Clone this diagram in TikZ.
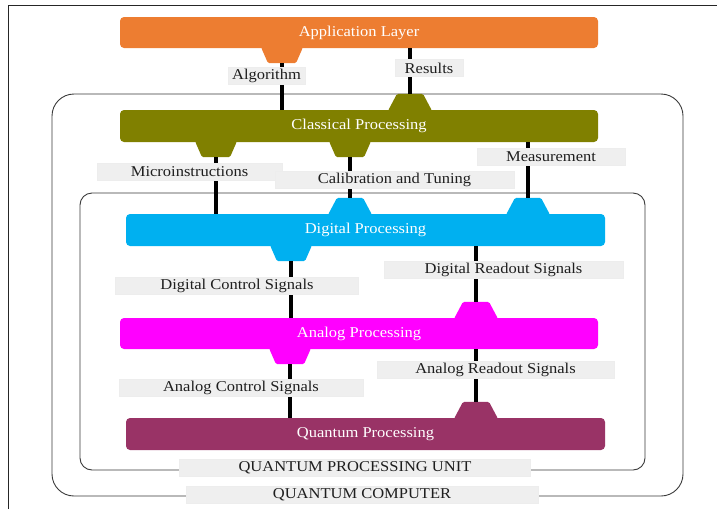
\documentclass[tikz,border=0pt]{standalone}
\usepackage{fontspec}
\setmainfont{Liberation Serif}[FakeStretch=1.1]
\usetikzlibrary{calc}

\definecolor{appC}{HTML}{ED7D31}
\definecolor{clsC}{HTML}{808000}
\definecolor{digC}{HTML}{00B0F0}
\definecolor{anaC}{HTML}{FF00FF}
\definecolor{qpC}{HTML}{993366}
\definecolor{tagFill}{HTML}{EFEFEF}
\definecolor{tagText}{HTML}{1E1E1E}
\definecolor{encC}{HTML}{3A3A3A}

% trapezoid tab hanging below a layer box: #1 colour, #2 name of the tip coordinate, #3 attach point
\newcommand\tabbelow[3]{%
  \fill[#1, rounded corners=1.5pt] ($(#3)+(-21,-1)$) -- ($(#3)+(-14,15)$) -- ($(#3)+(14,15)$) -- ($(#3)+(21,-1)$) -- cycle;
  \coordinate (#2) at ($(#3)+(0,15)$);}
% trapezoid tab standing on top of a layer box
\newcommand\tababove[3]{%
  \fill[#1, rounded corners=1.5pt] ($(#3)+(-22,1)$) -- ($(#3)+(-13,-16)$) -- ($(#3)+(13,-16)$) -- ($(#3)+(22,1)$) -- cycle;
  \coordinate (#2) at ($(#3)+(0,-16)$);}

\begin{document}
\begin{tikzpicture}[x=1pt, y=-1pt,
  font=\fontsize{15}{17}\selectfont,
  layer/.style={rounded corners=4pt, minimum height=31pt, inner sep=0pt, text=white},
  tag/.style={fill=tagFill, draw=white!93!black, line width=0.4pt, text=tagText, inner sep=0pt, minimum height=17pt},
  wire/.style={line width=3.2pt, black},
  encl/.style={draw=encC, line width=0.9pt}]
\useasboundingbox (0,0) rectangle (717,509);

% page frame
\draw[line width=1pt, black!85] (8,509) -- (8,5) -- (717,5);

% enclosures
\node[encl, rounded corners=22pt, minimum width=631pt, minimum height=402pt] (qcomp) at (367.5,295) {};
\node[encl, rounded corners=12pt, minimum width=565pt, minimum height=277pt] (qpunit) at (362.5,331.5) {};

% processing layers
\node[layer, fill=appC, minimum width=478pt] (app) at (359,32.5) {Application Layer};
\node[layer, fill=clsC, minimum width=478pt, minimum height=32pt] (cls) at (359,126) {Classical Processing};
\node[layer, fill=digC, minimum width=479pt, minimum height=32pt] (dig) at (365.5,230) {Digital Processing};
\node[layer, fill=anaC, minimum width=478pt] (ana) at (359,333.5) {Analog Processing};
\node[layer, fill=qpC, minimum width=479pt, minimum height=32pt] (qp) at (365.5,434) {Quantum Processing};

% tabs
\coordinate (a1) at (app.south -| 282,0);
\tabbelow{appC}{appT}{a1}
\coordinate (c0) at (cls.north -| 410,0);
\tababove{clsC}{clsU}{c0}
\coordinate (c1) at (cls.south -| 216,0);
\tabbelow{clsC}{clsA}{c1}
\coordinate (c2) at (cls.south -| 350,0);
\tabbelow{clsC}{clsB}{c2}
\coordinate (d1) at (dig.north -| 350,0);
\tababove{digC}{digU}{d1}
\coordinate (d2) at (dig.north -| 528,0);
\tababove{digC}{digV}{d2}
\coordinate (d3) at (dig.south -| 291,0);
\tabbelow{digC}{digD}{d3}
\coordinate (n1) at (ana.north -| 476,0);
\tababove{anaC}{anaU}{n1}
\coordinate (n2) at (ana.south -| 290,0);
\tabbelow{anaC}{anaD}{n2}
\coordinate (q1) at (qp.north -| 476,0);
\tababove{qpC}{qpU}{q1}

% signal wires
\draw[wire] (appT) -- (appT |- cls.north);
\draw[wire] (clsU) -- (clsU |- app.south);
\draw[wire] (clsA) -- (clsA |- dig.north);
\draw[wire] (clsB) -- (digU);
\draw[wire] (digV) -- (digV |- cls.south);
\draw[wire] (digD) -- (digD |- ana.north);
\draw[wire] (anaU) -- (anaU |- dig.south);
\draw[wire] (anaD) -- (anaD |- qp.north);
\draw[wire] (qpU) -- (qpU |- ana.south);

% wire labels
\node[tag, minimum width=77pt] (tAlg) at (266.5,76) {Algorithm};
\node[tag, minimum width=68pt] (tRes) at (429,68) {Results};
\node[tag, minimum width=185pt] (tMic) at (189.5,171.5) {Microinstructions};
\node[tag, minimum width=239pt] (tCal) at (394.5,180) {Calibration and Tuning};
\node[tag, minimum width=148pt] (tMea) at (551,156.5) {Measurement};
\node[tag, minimum width=243pt] (tDcs) at (237,285.5) {Digital Control Signals};
\node[tag, minimum width=239pt] (tDrs) at (503.5,269.5) {Digital Readout Signals};
\node[tag, minimum width=244pt] (tAcs) at (241,388) {Analog Control Signals};
\node[tag, minimum width=237pt] (tArs) at (495.5,369.5) {Analog Readout Signals};

% enclosure labels
\node[tag, minimum width=351pt] (tQpu) at (355,467.5) {QUANTUM PROCESSING UNIT};
\node[tag, minimum width=352pt] (tQc) at (362,494.5) {QUANTUM COMPUTER};
\end{tikzpicture}
\end{document}
